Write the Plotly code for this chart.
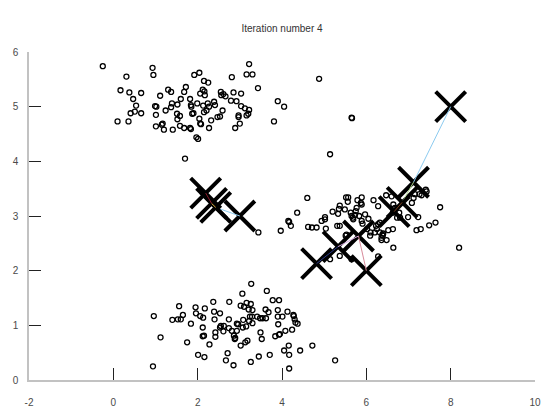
import plotly.graph_objects as go

# ---------------- data ----------------
cluster_a_x = [-0.25, 0.93, 0.95, 0.31, 2.04, 1.92, 3.22, 3.16, 3.30, 2.81, 2.15, 2.25, 3.43, 1.72,
               0.17, 0.38, 0.66, 1.30, 1.37, 1.11, 0.47, 1.68, 2.06, 2.12, 2.16, 2.17, 2.55, 2.61,
               2.66, 2.56, 2.85, 3.03, 2.79, 2.92, 1.60, 1.82, 1.39, 1.52, 0.99, 1.02, 0.54, 1.84,
               1.85, 1.99, 2.24, 2.39, 2.41, 2.27, 2.21, 2.15, 2.13, 3.03, 3.12, 3.22, 3.20, 3.16,
               2.97, 2.97, 3.90, 4.05, 3.81, 2.59, 2.47, 2.53, 1.24, 1.37, 1.01, 1.51, 1.58, 1.52,
               1.87, 1.90, 2.04, 2.08, 2.06, 2.27, 2.32, 0.41, 0.51, 0.66, 0.10, 0.36, 1.01, 1.15,
               1.17, 1.20, 1.41, 1.58, 1.68, 1.82, 1.84, 3.00, 2.89, 1.97, 2.01, 1.70, 4.88, 5.65,
               5.66, 5.14]
cluster_a_y = [5.74, 5.71, 5.58, 5.55, 5.62, 5.58, 5.78, 5.59, 5.59, 5.54, 5.47, 5.44, 5.34, 5.36,
               5.30, 5.26, 5.25, 5.31, 5.27, 5.20, 5.14, 5.27, 5.24, 5.31, 5.28, 5.21, 5.27, 5.23,
               5.19, 5.21, 5.26, 5.24, 5.11, 5.10, 5.14, 5.14, 5.06, 5.04, 5.01, 5.00, 5.02, 5.03,
               5.00, 5.06, 5.06, 5.09, 5.03, 5.00, 4.93, 4.90, 5.02, 5.01, 4.97, 4.94, 4.87, 4.84,
               4.84, 4.81, 5.10, 5.00, 4.73, 4.93, 4.81, 4.82, 4.93, 4.99, 4.85, 4.87, 4.83, 4.77,
               4.87, 4.88, 4.78, 4.68, 4.69, 4.61, 4.75, 4.88, 4.91, 4.88, 4.73, 4.73, 4.64, 4.67,
               4.69, 4.58, 4.58, 4.65, 4.61, 4.61, 4.59, 4.69, 4.61, 4.44, 4.41, 4.05, 5.51, 4.80,
               4.79, 4.13]

cluster_b_x = [4.60, 4.36, 4.17, 4.21, 3.97, 3.44, 4.15, 4.62, 4.71, 4.82, 4.94, 5.02, 5.02, 5.04,
               5.20, 5.33, 5.35, 5.37, 5.31, 5.37, 5.49, 5.52, 5.57, 5.56, 5.63, 5.68, 5.69, 5.73,
               5.65, 5.77, 5.75, 5.79, 5.89, 5.87, 5.89, 5.83, 5.89, 5.91, 5.97, 6.05, 5.51, 5.53,
               5.37, 5.14, 5.65, 6.02, 6.09, 6.10, 6.17, 6.28, 6.23, 6.28, 6.32, 6.25, 6.20, 6.32,
               6.38, 6.36, 6.40, 6.39, 6.48, 6.36, 6.28, 6.64, 6.47, 6.60, 6.64, 6.68, 6.63, 6.78,
               6.73, 6.52, 6.63, 6.99, 6.80, 7.15, 7.26, 7.31, 7.41, 7.43, 7.19, 7.29, 7.49, 7.64,
               7.75, 8.20, 7.23, 7.08, 7.12]
cluster_b_y = [3.33, 3.06, 2.89, 2.82, 2.73, 2.70, 2.91, 2.80, 2.79, 2.79, 2.91, 2.98, 2.94, 2.77,
               3.08, 3.04, 3.13, 3.19, 2.82, 2.82, 3.12, 3.34, 3.34, 3.26, 3.06, 2.97, 2.94, 3.02,
               3.00, 3.15, 3.09, 3.29, 3.34, 3.24, 3.21, 3.00, 2.91, 2.86, 3.03, 2.95, 2.64, 2.66,
               2.27, 2.21, 2.21, 2.76, 2.64, 2.70, 3.29, 3.18, 2.82, 2.85, 2.88, 2.76, 2.70, 2.70,
               2.66, 2.60, 2.68, 2.64, 2.56, 2.56, 2.26, 2.42, 3.38, 3.36, 3.21, 3.15, 3.06, 3.06,
               2.97, 2.74, 2.76, 2.98, 2.97, 3.40, 3.40, 3.38, 3.48, 3.45, 2.74, 2.76, 2.83, 2.88,
               3.16, 2.42, 2.98, 3.24, 3.33]

cluster_c_x = [3.27, 3.06, 3.64, 3.78, 3.93, 2.37, 2.75, 1.56, 1.95, 2.17, 3.02, 3.10, 3.16, 3.21,
               3.26, 3.30, 3.61, 3.68, 3.90, 4.13, 4.27, 2.39, 2.53, 1.96, 2.06, 2.13, 0.96, 1.40,
               1.53, 1.60, 1.65, 1.84, 2.40, 2.74, 2.93, 2.96, 3.08, 3.22, 3.29, 3.24, 3.41, 3.48,
               3.54, 3.62, 3.07, 3.15, 3.30, 3.90, 4.01, 4.28, 4.30, 4.32, 4.37, 3.91, 2.12, 2.55,
               2.62, 2.53, 2.74, 2.81, 2.93, 4.08, 4.24, 2.42, 2.61, 1.12, 1.75, 2.12, 2.15, 2.42,
               2.28, 2.86, 2.89, 2.88, 3.49, 3.52, 3.84, 3.93, 3.95, 3.13, 3.18, 3.02, 4.16, 4.05,
               4.43, 4.72, 4.17, 2.01, 2.16, 2.71, 2.67, 2.85, 3.26, 3.45, 3.71, 0.94, 4.17, 5.26]
cluster_c_y = [1.76, 1.58, 1.63, 1.46, 1.46, 1.43, 1.43, 1.35, 1.33, 1.31, 1.36, 1.34, 1.41, 1.29,
               1.39, 1.28, 1.29, 1.24, 1.28, 1.25, 1.19, 1.25, 1.22, 1.22, 1.17, 1.14, 1.17, 1.10,
               1.11, 1.11, 1.19, 1.03, 1.11, 1.11, 1.03, 1.02, 1.10, 1.08, 1.16, 1.16, 1.16, 1.13,
               1.13, 1.13, 0.96, 0.98, 1.04, 1.16, 1.16, 1.17, 1.11, 1.05, 1.03, 1.02, 0.96, 0.99,
               0.99, 0.96, 0.95, 0.90, 0.90, 0.90, 0.92, 0.87, 0.89, 0.78, 0.69, 0.80, 0.81, 0.79,
               0.65, 0.81, 0.77, 0.75, 0.87, 0.75, 0.80, 0.83, 0.84, 0.69, 0.72, 0.63, 0.63, 0.54,
               0.54, 0.63, 0.46, 0.46, 0.42, 0.49, 0.36, 0.27, 0.33, 0.43, 0.46, 0.25, 0.21, 0.36]

# centroid history: iterations 0..3 (one list per centroid)
centroid1_x = [3.00, 2.428, 2.33, 2.19]
centroid1_y = [3.00, 3.158, 3.23, 3.42]
centroid2_x = [6.00, 5.814, 5.33, 4.82]
centroid2_y = [2.00, 2.634, 2.44, 2.13]
centroid3_x = [8.00, 7.119, 6.85, 6.66]
centroid3_y = [5.00, 3.617, 3.25, 3.08]

# colours of the connecting segments, per step (0->1, 1->2, 2->3) and centroid
step_colors = [
    ["#8ccbf0", "#d88a9a", "#8ccbf0"],
    ["#e0b040", "#d4a8e0", "#b0d890"],
    ["#8a1a2a", "#2a3a8a", "#7a4020"],
]

title_text = "Iteration number 4"
x_ticks = [-2, 0, 2, 4, 6, 8, 10]
y_ticks = [0, 1, 2, 3, 4, 5, 6]

# ---------------- figure ----------------
fig = go.Figure()

pts_x = cluster_a_x + cluster_b_x + cluster_c_x
pts_y = cluster_a_y + cluster_b_y + cluster_c_y
fig.add_trace(go.Scatter(
    x=pts_x, y=pts_y, mode="markers",
    marker=dict(symbol="circle-open", size=5, color="black", line=dict(width=1.3, color="black")),
    hoverinfo="skip", showlegend=False, cliponaxis=False,
))

cx = [centroid1_x, centroid2_x, centroid3_x]
cy = [centroid1_y, centroid2_y, centroid3_y]
n_iter = len(centroid1_x)
for it in range(n_iter):
    fig.add_trace(go.Scatter(
        x=[c[it] for c in cx], y=[c[it] for c in cy], mode="markers",
        marker=dict(symbol="x-thin", size=30, color="black", line=dict(width=4, color="black")),
        hoverinfo="skip", showlegend=False, cliponaxis=False,
    ))
    if it > 0:
        for j in range(3):
            fig.add_trace(go.Scatter(
                x=[cx[j][it - 1], cx[j][it]], y=[cy[j][it - 1], cy[j][it]], mode="lines",
                line=dict(color=step_colors[it - 1][j], width=1),
                hoverinfo="skip", showlegend=False,
            ))

axis_common = dict(
    showgrid=False, zeroline=False, showline=True, linecolor="#c2c2c2", linewidth=1.5,
    ticks="inside", ticklen=12, tickwidth=1, tickcolor="#222222",
    tickfont=dict(family="Liberation Sans, Arial, sans-serif", size=10, color="#4a4a4a"),
)
fig.update_layout(
    width=560, height=420,
    margin=dict(l=29, r=25, t=52, b=36),
    paper_bgcolor="white", plot_bgcolor="white",
    title=dict(text=title_text, x=0.5, xref="paper", xanchor="center",
               y=1 - 28 / 420, yanchor="middle",
               font=dict(family="Liberation Sans, Arial, sans-serif", size=10, color="#333333")),
    xaxis=dict(range=[-2, 10], tickvals=x_ticks, ticktext=[str(v) for v in x_ticks],
               ticklabelstandoff=12, **axis_common),
    yaxis=dict(range=[0, 6], tickvals=y_ticks, ticktext=[str(v) for v in y_ticks],
               ticklabelstandoff=7, **axis_common),
)

fig.write_html("out.html")
